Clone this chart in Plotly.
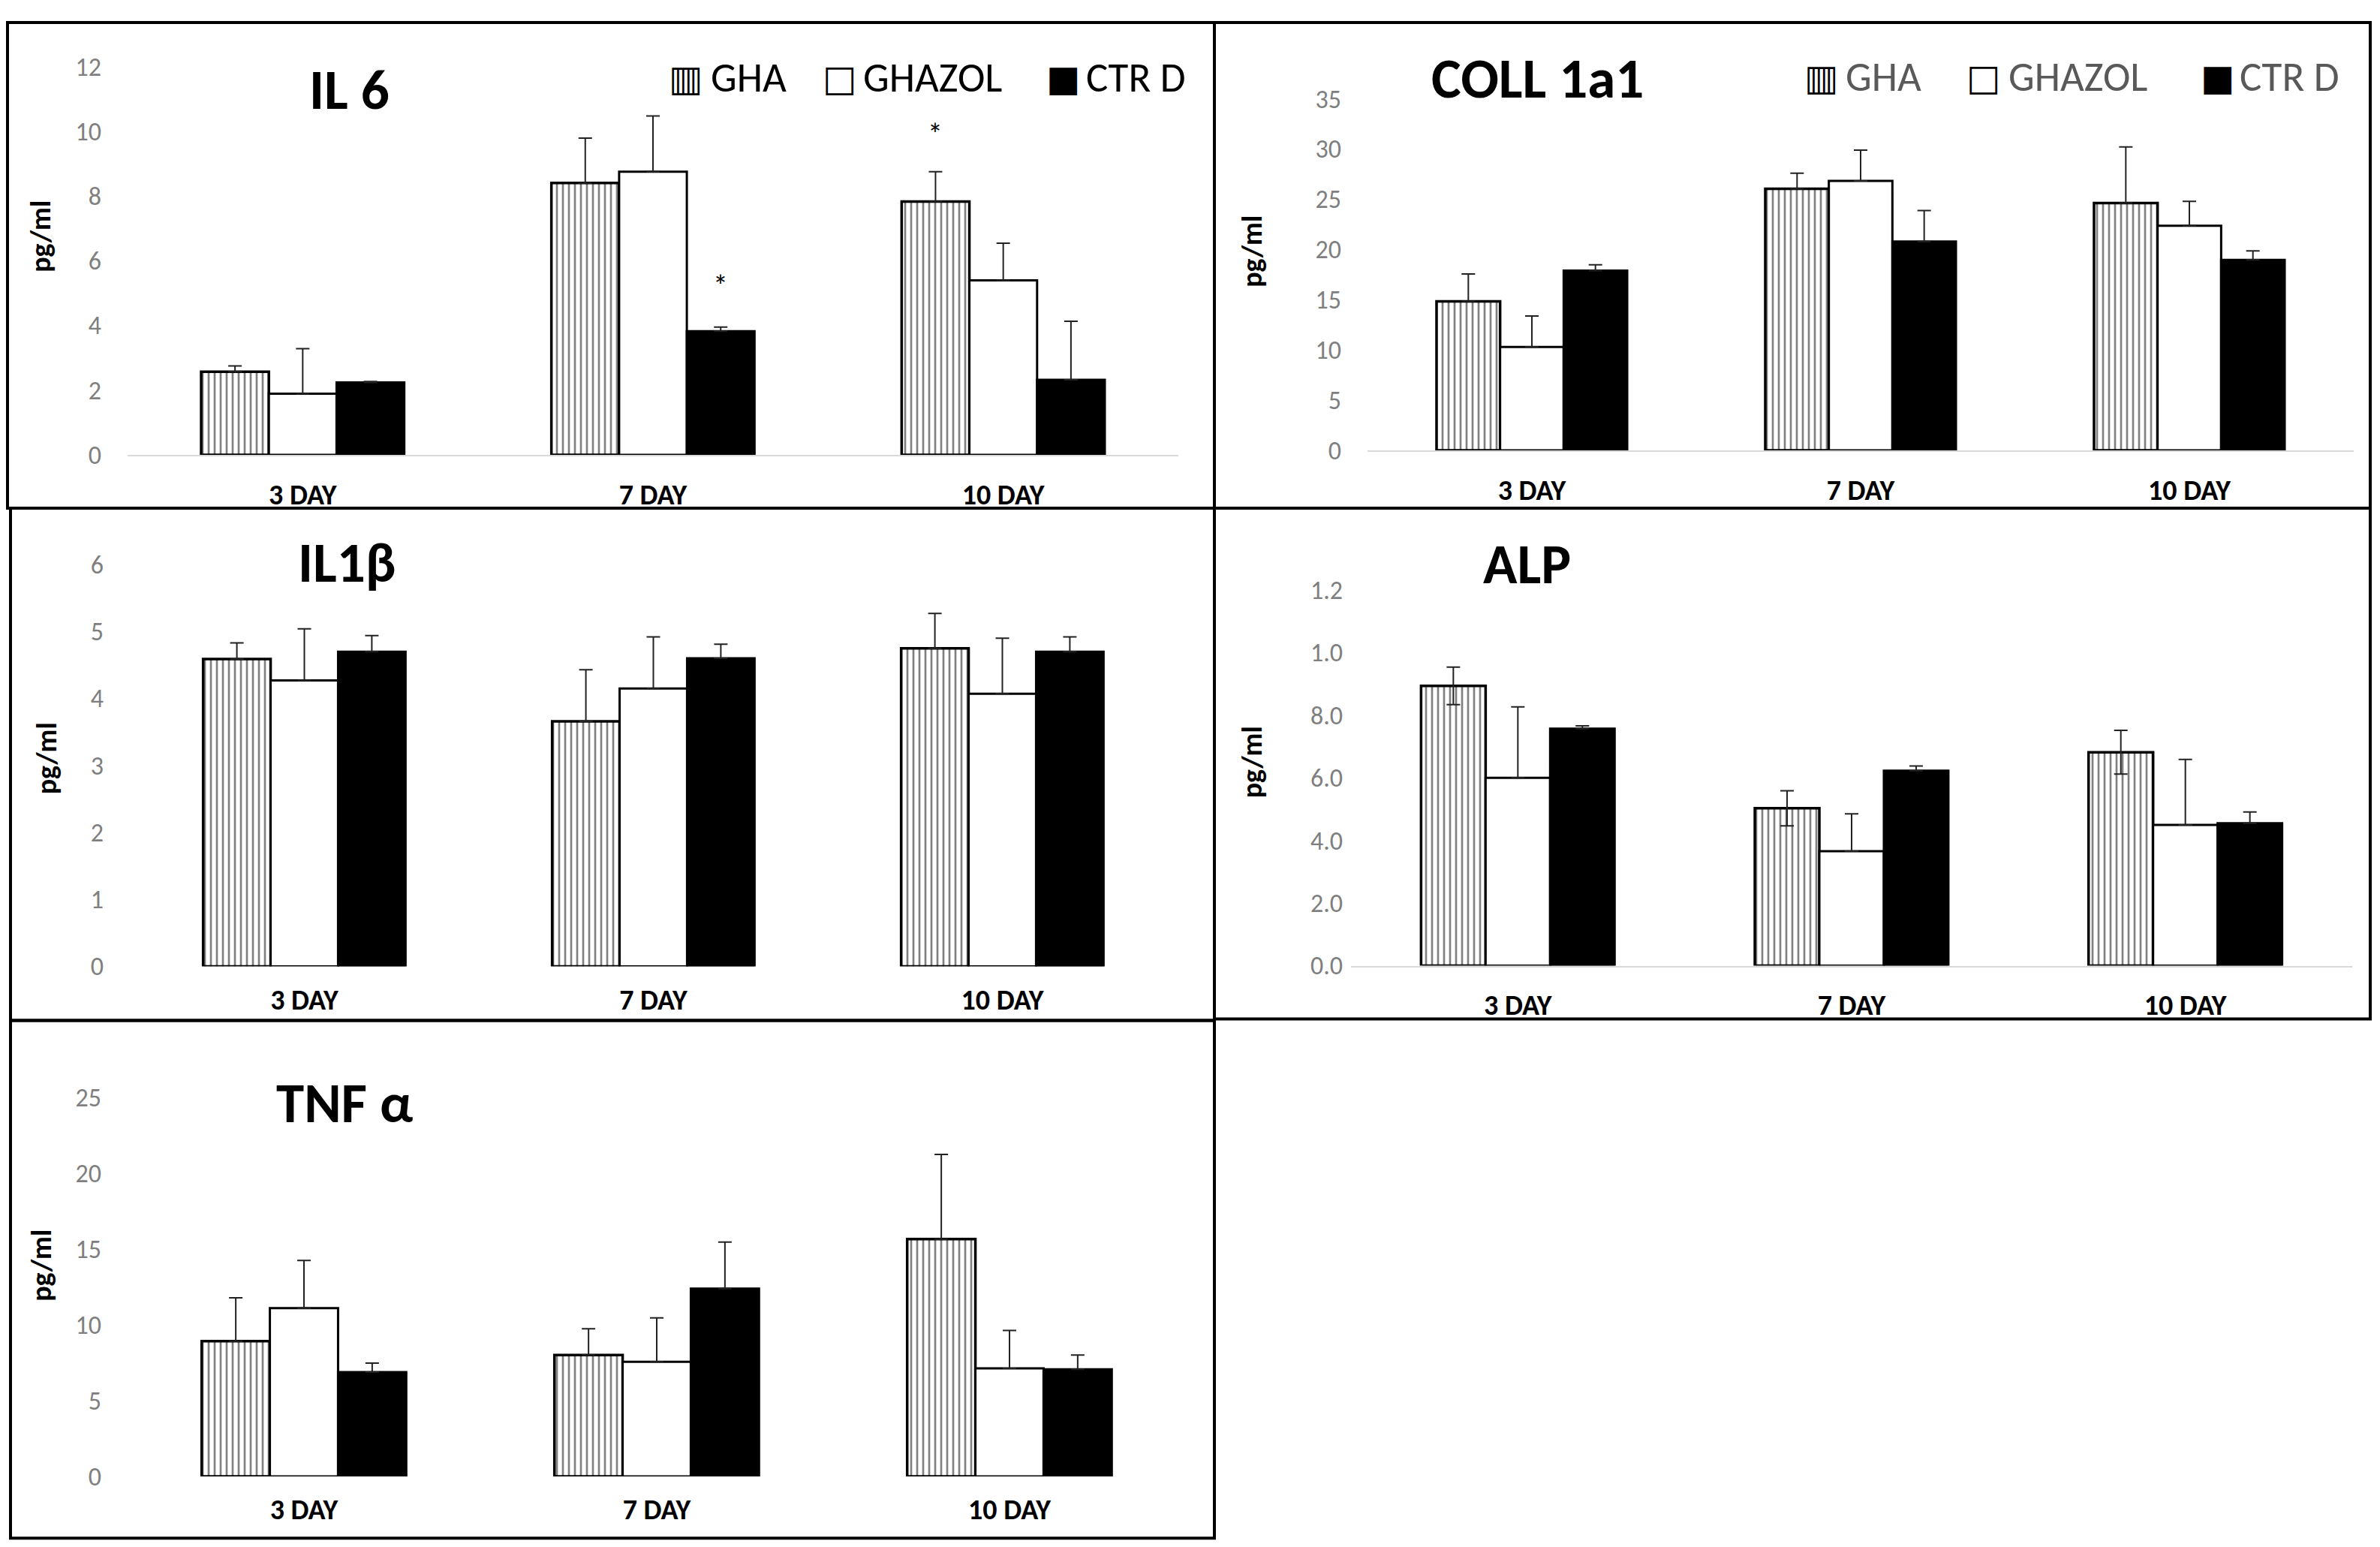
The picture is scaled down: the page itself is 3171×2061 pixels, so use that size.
import plotly.graph_objects as go

# page body has an 8px margin; the photo also comes out a little taller than the
# window, so vertical positions are stretched slightly to land where intended
PAGE_W, M = 3171, 8
W, H = PAGE_W - 2 * M, 2070
SY, OY = 1.021, -27
FONT = "Carlito, Lato, sans-serif"


def px(x):
    return (x - M) / W


def py(y):
    return 1 - max(SY * y + OY, 2) / H


days = ["3 DAY", "7 DAY", "10 DAY"]
groups = ["GHA", "GHAZOL", "CTR D"]
legend_marks = ["▥", "□", "■"]

# IL 6 (pg/ml)
il6_gha = [2.57, 8.40, 7.83]
il6_gha_err = [0.18, 1.39, 0.92]
il6_ghazol = [1.89, 8.75, 5.39]
il6_ghazol_err = [1.39, 1.72, 1.15]
il6_ctr = [2.24, 3.82, 2.32]
il6_ctr_err = [0.03, 0.13, 1.81]
il6_stars = [("7 DAY", "CTR D", 5.2), ("10 DAY", "GHA", 9.9)]

# COLL 1a1
coll_gha = [14.84, 26.05, 24.63]
coll_gha_err = [2.72, 1.55, 5.57]
coll_ghazol = [10.3, 26.83, 22.36]
coll_ghazol_err = [3.08, 3.07, 2.43]
coll_ctr = [17.89, 20.8, 18.96]
coll_ctr_err = [0.58, 3.08, 0.9]

# IL1b
il1b_gha = [4.59, 3.66, 4.75]
il1b_gha_err = [0.24, 0.77, 0.52]
il1b_ghazol = [4.27, 4.15, 4.07]
il1b_ghazol_err = [0.77, 0.77, 0.83]
il1b_ctr = [4.70, 4.60, 4.70]
il1b_ctr_err = [0.24, 0.21, 0.22]

# ALP
alp_gha = [0.894, 0.503, 0.682]
alp_gha_err = [0.06, 0.056, 0.07]
alp_ghazol = [0.600, 0.366, 0.45]
alp_ghazol_err = [0.227, 0.119, 0.209]
alp_ctr = [0.757, 0.623, 0.455]
alp_ctr_err = [0.009, 0.015, 0.036]
alp_tickvals = [0, 0.2, 0.4, 0.6, 0.8, 1.0, 1.2]
alp_ticktext = ["0.0", "2.0", "4.0", "6.0", "8.0", "1.0", "1.2"]

# TNF alpha
tnf_gha = [8.92, 8.0, 15.65]
tnf_gha_err = [2.85, 1.73, 5.58]
tnf_ghazol = [11.1, 7.56, 7.13]
tnf_ghazol_err = [3.14, 2.89, 2.49]
tnf_ctr = [6.88, 12.38, 7.06]
tnf_ctr_err = [0.59, 3.07, 0.94]

BARGAP = 0.42

# pixel layout of each panel (reference picture coordinates)
panels = [
    dict(title="IL 6", vals=(il6_gha, il6_ghazol, il6_ctr),
         errs=(il6_gha_err, il6_ghazol_err, il6_ctr_err),
         area=(170, 1570, 87, 604), yr=12, dtick=2, tpos=(465, 118), upos=(54, 313),
         box=(10, 1618, 16, 675), baseline=True, standoff=34),
    dict(title="COLL 1a1", vals=(coll_gha, coll_ghazol, coll_ctr),
         errs=(coll_gha_err, coll_ghazol_err, coll_ctr_err),
         area=(1822, 3136, 130, 598), yr=35, dtick=5, tpos=(2048, 103), upos=(1668, 333),
         box=(1618, 3158, 16, 675), baseline=True, standoff=34),
    dict(title="IL1β", vals=(il1b_gha, il1b_ghazol, il1b_ctr),
         errs=(il1b_gha_err, il1b_ghazol_err, il1b_ctr_err),
         area=(173, 1568, 750, 1285), yr=6, dtick=1, tpos=(462, 747), upos=(62, 1008),
         box=(14, 1618, 675, 1357), baseline=False, standoff=34),
    dict(title="ALP", vals=(alp_gha, alp_ghazol, alp_ctr),
         errs=(alp_gha_err, alp_ghazol_err, alp_ctr_err),
         area=(1800, 3134, 784, 1284), yr=1.2, dtick=None, tpos=(2034, 749), upos=(1668, 1013),
         box=(1618, 3158, 675, 1355), baseline=True, standoff=10),
    dict(title="TNF α", vals=(tnf_gha, tnf_ghazol, tnf_ctr),
         errs=(tnf_gha_err, tnf_ghazol_err, tnf_ctr_err),
         area=(170, 1580, 1459, 1964), yr=25, dtick=5, tpos=(459, 1467), upos=(55, 1683),
         box=(14, 1618, 1357, 2046), baseline=False, standoff=34),
]

# legend rows drawn as text: (mark centre x, label left x, centre y, colour)
legend_rows = [
    dict(marks=(913, 1118, 1416), labels=(945, 1148, 1445), y=102, color="black"),
    dict(marks=(2426, 2642, 2954), labels=(2457, 2674, 2982), y=101, color="#595959"),
]

styles = {
    "GHA": dict(color="white", line=dict(color="black", width=3.5),
                pattern=dict(shape="|", fgcolor="black", bgcolor="white", size=8, solidity=0.33)),
    "GHAZOL": dict(color="white", line=dict(color="black", width=3)),
    "CTR D": dict(color="black", line=dict(color="black", width=3)),
}

fig = go.Figure()
annotations = []
shapes = []

for i, p in enumerate(panels):
    n = "" if i == 0 else str(i + 1)
    x0, x1, y0, y1 = p["area"]
    for g, v, e in zip(groups, p["vals"], p["errs"]):
        err = dict(type="data", array=e, color="#222222", thickness=2, width=9, visible=True)
        if p["title"] == "ALP" and g == "GHA":
            err["symmetric"] = True
        else:
            err["symmetric"] = False
            err["arrayminus"] = [0] * len(e)
        fig.add_trace(go.Bar(
            x=days, y=v, name=g, marker=styles[g], error_y=err,
            xaxis="x" + n, yaxis="y" + n, showlegend=False,
        ))

    yax = dict(domain=[py(y1), py(y0)], range=[0, p["yr"]], anchor="x" + n,
               showgrid=False, zeroline=False, showline=False, ticks="",
               ticklabelstandoff=p["standoff"],
               tickfont=dict(family=FONT, size=34, color="#7f7f7f"))
    if p["dtick"]:
        yax.update(tickmode="linear", tick0=0, dtick=p["dtick"])
    else:
        yax.update(tickmode="array", tickvals=alp_tickvals, ticktext=alp_ticktext)
    xax = dict(domain=[px(x0), px(x1)], anchor="y" + n, showgrid=False, zeroline=False,
               showline=p["baseline"], linecolor="#d9d9d9", linewidth=2, ticks="",
               ticklabelstandoff=18,
               tickfont=dict(family=FONT, size=38, color="black", weight="bold"))
    fig.update_layout({"xaxis" + n: xax, "yaxis" + n: yax})

    tx, ty = p["tpos"]
    annotations.append(dict(text=p["title"], x=px(tx), y=py(ty), xref="paper", yref="paper",
                            showarrow=False, xanchor="center", yanchor="middle",
                            font=dict(family=FONT, size=75, color="black", weight="bold")))
    ux, uy = p["upos"]
    annotations.append(dict(text="pg/ml", x=px(ux), y=py(uy), xref="paper", yref="paper",
                            showarrow=False, textangle=-90, xanchor="center", yanchor="middle",
                            font=dict(family=FONT, size=38, color="black", weight="bold")))
    bx0, bx1, by0, by1 = p["box"]
    shapes.append(dict(type="rect", xref="paper", yref="paper", x0=px(bx0), x1=px(bx1),
                       y0=py(by1), y1=py(by0), line=dict(color="black", width=4)))

for row in legend_rows:
    for mark, g, mx, lx in zip(legend_marks, groups, row["marks"], row["labels"]):
        annotations.append(dict(text=mark, x=px(mx), y=py(row["y"]), xref="paper", yref="paper",
                                showarrow=False, xanchor="center", yanchor="middle",
                                font=dict(family="DejaVu Sans", size=48, color="black")))
        annotations.append(dict(text=g, x=px(lx), y=py(row["y"]), xref="paper", yref="paper",
                                showarrow=False, xanchor="left", yanchor="middle",
                                font=dict(family=FONT, size=55, color=row["color"])))

# significance asterisks above IL 6 bars
px_per_cat = (panels[0]["area"][1] - panels[0]["area"][0]) / len(days)
bar_w = (1 - BARGAP) / len(groups)
for day, grp, yv in il6_stars:
    shift = (groups.index(grp) - 1) * bar_w * px_per_cat
    annotations.append(dict(text="*", x=day, y=yv, xref="x", yref="y", xshift=shift,
                            showarrow=False, font=dict(family=FONT, size=40, color="black")))

fig.update_layout(
    width=W, height=H, margin=dict(l=0, r=0, t=0, b=0),
    paper_bgcolor="white", plot_bgcolor="white",
    barmode="group", bargap=BARGAP, bargroupgap=0,
    annotations=annotations, shapes=shapes, showlegend=False,
    font=dict(family=FONT),
)

fig.write_html("out.html")
